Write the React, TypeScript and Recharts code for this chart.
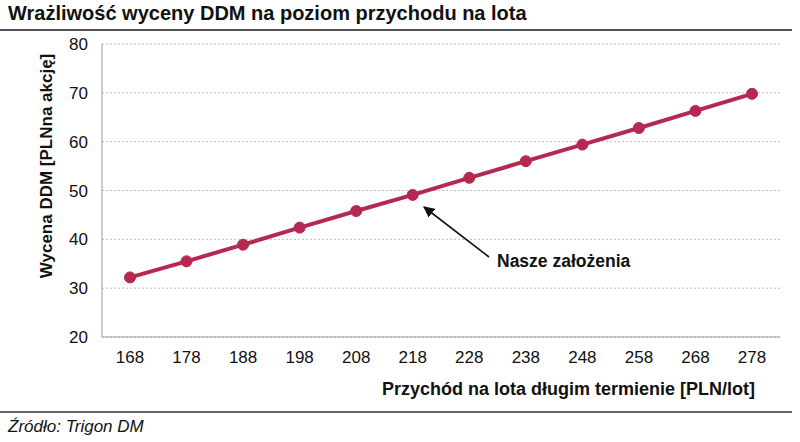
import { CartesianGrid, Line, LineChart, XAxis, YAxis } from "recharts";

const revenuePerLot = ["168", "178", "188", "198", "208", "218", "228", "238", "248", "258", "268", "278"];
const ddmValuation = [32.2, 35.5, 38.9, 42.4, 45.8, 49.1, 52.6, 56.0, 59.4, 62.8, 66.3, 69.8];
const yTicks = [20, 30, 40, 50, 60, 70, 80];

const data = revenuePerLot.map((rev, i) => ({ rev, value: ddmValuation[i] }));

const FONT = "'Liberation Sans', Arial, sans-serif";
const LINE_COLOR = "#b5284f";

export default function App() {
  return (
    <div style={{ position: "absolute", left: 0, top: 0, width: 800, height: 442, background: "#fff", fontFamily: FONT }}>
      <div style={{ position: "absolute", left: 8, top: 2, fontSize: 20, fontWeight: 700, color: "#111", whiteSpace: "nowrap" }}>
        Wrażliwość wyceny DDM na poziom przychodu na lota
      </div>
      <div style={{ position: "absolute", left: 0, top: 29, width: 792, height: 2, background: "#555" }} />

      <LineChart width={800} height={442} data={data} margin={{ top: 44, right: 20, bottom: 75, left: 30 }}>
        <CartesianGrid vertical={false} stroke="#bdbdbd" strokeDasharray="2 2" />
        <XAxis
          dataKey="rev"
          height={30}
          tickLine={false}
          axisLine={{ stroke: "#999" }}
          tickMargin={8}
          padding={{ left: 28, right: 28 }}
          tick={{ fill: "#111", fontSize: 17, fontFamily: FONT }}
          interval={0}
        />
        <YAxis
          width={72}
          domain={[20, 80]}
          ticks={yTicks}
          tickLine={false}
          axisLine={{ stroke: "#999" }}
          tickMargin={8}
          tick={{ fill: "#111", fontSize: 17, fontFamily: FONT }}
        />
        <Line
          type="linear"
          dataKey="value"
          stroke={LINE_COLOR}
          strokeWidth={4}
          dot={{ r: 5.5, fill: LINE_COLOR, stroke: LINE_COLOR, strokeWidth: 1 }}
          isAnimationActive={false}
        />
      </LineChart>

      <div
        style={{
          position: "absolute",
          left: 47,
          top: 166,
          transform: "translate(-50%, -50%) rotate(-90deg)",
          fontSize: 17,
          fontWeight: 700,
          color: "#111",
          whiteSpace: "nowrap",
        }}
      >
        Wycena DDM [PLNna akcję]
      </div>

      <div style={{ position: "absolute", right: 45, top: 379, fontSize: 18, fontWeight: 700, color: "#111", whiteSpace: "nowrap" }}>
        Przychód na lota długim termienie [PLN/lot]
      </div>

      <svg style={{ position: "absolute", left: 0, top: 0 }} width={800} height={442}>
        <defs>
          <marker id="arrowHead" viewBox="0 0 10 10" refX="9" refY="5" markerWidth="7" markerHeight="7" orient="auto">
            <path d="M0,0 L10,5 L0,10 z" fill="#111" />
          </marker>
        </defs>
        <line x1={489} y1={257} x2={424} y2={207} stroke="#111" strokeWidth={1.6} markerEnd="url(#arrowHead)" />
      </svg>
      <div style={{ position: "absolute", left: 497, top: 251, fontSize: 17.5, fontWeight: 700, color: "#111", whiteSpace: "nowrap" }}>
        Nasze założenia
      </div>

      <div style={{ position: "absolute", left: 0, top: 411, width: 792, height: 2, background: "#666" }} />
      <div style={{ position: "absolute", left: 8, top: 417, fontSize: 17, fontStyle: "italic", color: "#111", whiteSpace: "nowrap" }}>
        Źródło: Trigon DM
      </div>
    </div>
  );
}
